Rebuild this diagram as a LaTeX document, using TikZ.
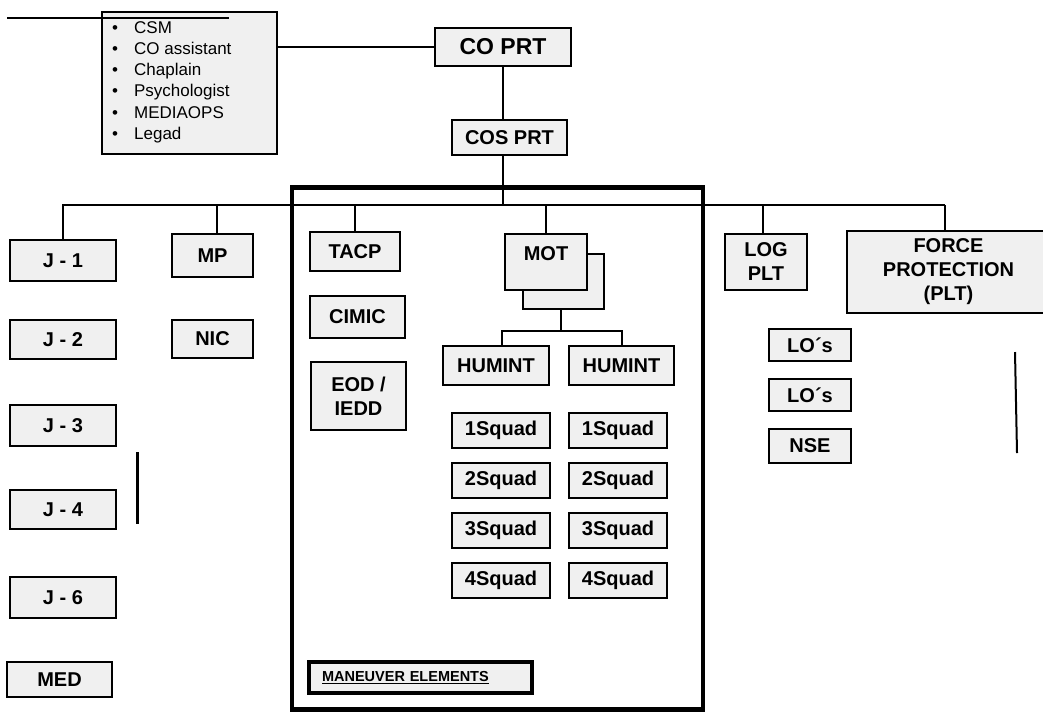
\documentclass[tikz,border=0pt]{standalone}
\usepackage{fontspec}
\setmainfont{Liberation Sans}
\definecolor{bxfill}{RGB}{240,240,240}
\tikzset{
  bx/.style={draw, line width=2pt, fill=bxfill, inner sep=0pt, outer sep=0pt,
    font=\bfseries\fontsize{20}{24}\selectfont, align=center},
  conn/.style={line width=2pt},
}
\begin{document}
\begin{tikzpicture}[x=1pt,y=-1pt]
\useasboundingbox (0,0) rectangle (1043,713);
\coordinate (busL) at (62,205);
\coordinate (busR) at (945,205);
\coordinate (fork) at (561,331);

% top row
\node[bx, minimum width=175, minimum height=142] (info) at (189.5,83) {};
\node[anchor=west, inner sep=0pt, font=\fontsize{17}{21.2}\selectfont] (list) at (112,82)
  {\begin{tabular}{@{}l@{\hspace{16pt}}l@{}}
   • & CSM\\ • & CO assistant\\ • & Chaplain\\ • & Psychologist\\ • & MEDIAOPS\\ • & Legad
   \end{tabular}};
\draw[line width=1.3pt] (7,18) -- (229,18);
\node[bx, minimum width=136, minimum height=38, font=\bfseries\fontsize{23}{27}\selectfont] (copr) at (503,47) {CO PRT};
\node[bx, minimum width=115, minimum height=35] (cospr) at (509.5,137.5) {COS PRT};
\draw[conn] (copr.west) -- (copr.west -| info.east);
\draw[conn] (copr.south) -- (copr.south |- cospr.north);
\draw[conn] (copr.south |- cospr.south) -- (copr.south |- busL);
\draw[conn] (busL) -- (busR);

% maneuver frame
\draw[line width=4.7pt] (292,187.5) rectangle (703,709.5);

% left columns
\node[bx, minimum width=106, minimum height=41] (j1) at (63,260.5) {J - 1};
\node[bx, minimum width=106, minimum height=39] (j2) at (63,339.5) {J - 2};
\node[bx, minimum width=106, minimum height=41] (j3) at (63,425.5) {J - 3};
\node[bx, minimum width=106, minimum height=39] (j4) at (63,509.5) {J - 4};
\node[bx, minimum width=106, minimum height=41] (j6) at (63,597.5) {J - 6};
\node[bx, minimum width=105, minimum height=35] (med) at (59.5,679.5) {MED};
\node[bx, minimum width=81, minimum height=43] (mp) at (212.5,255.5) {MP};
\node[bx, minimum width=81, minimum height=38] (nic) at (212.5,339) {NIC};
\draw[conn] (j1.north) -- (j1.north |- busL);
\draw[conn] ([xshift=4pt]mp.north) -- ([xshift=4pt]mp.north |- busL);
\draw[line width=3pt] (137,452) -- (137,524);

% inside frame
\node[bx, minimum width=90, minimum height=39] (tacp) at (355,251.5) {TACP};
\node[bx, minimum width=95, minimum height=42] (cimic) at (357.5,317) {CIMIC};
\node[bx, minimum width=95, minimum height=68] (eod) at (358.5,396) {EOD /\\IEDD};
\draw[conn] (tacp.north) -- (tacp.north |- busL);

\node[bx, minimum width=81, minimum height=55] (motb) at (563.5,281.5) {};
\node[bx, minimum width=82, minimum height=56, text height=14.3pt, text depth=18pt] (motf) at (546,262) {MOT};
\draw[conn] (motf.north) -- (motf.north |- busL);

\node[bx, minimum width=106, minimum height=39] (huml) at (496,365.5) {HUMINT};
\node[bx, minimum width=105, minimum height=39] (humr) at (621.5,365.5) {HUMINT};
\draw[conn] ([xshift=-2.5pt]motb.south) -- ([xshift=-2.5pt]motb.south |- fork);
\draw[conn] ([xshift=6pt]huml.north) |- (fork) -| (humr.north);

\foreach \i/\y in {1/430.5,2/480.5,3/530.5,4/580.5}{
  \node[bx, minimum width=98, minimum height=35] (sql\i) at (501,\y) {\i Squad};
  \node[bx, minimum width=98, minimum height=35] (sqr\i) at (618,\y) {\i Squad};
}

\node[bx, line width=3.4pt, minimum width=223, minimum height=31, text width=197pt, align=left,
  font=\bfseries\fontsize{14.5}{17}\selectfont] (man) at (420.5,677.5) {\underline{MANEUVER ELEMENTS}};

% right side
\node[bx, minimum width=82, minimum height=56] (logplt) at (766,262) {LOG\\PLT};
\node[bx, minimum width=203, minimum height=82] (fp) at (948.5,272) {FORCE\\PROTECTION\\(PLT)};
\draw[conn] ([xshift=-3pt]logplt.north) -- ([xshift=-3pt]logplt.north |- busL);
\draw[conn] (busR) -- (busR |- fp.north);
\node[bx, minimum width=82, minimum height=32] (lo1) at (810,345) {LO´s};
\node[bx, minimum width=82, minimum height=32] (lo2) at (810,395) {LO´s};
\node[bx, minimum width=82, minimum height=34] (nse) at (810,446) {NSE};
\draw[line width=2pt] (1015,352) -- (1017,453);
\end{tikzpicture}
\end{document}
